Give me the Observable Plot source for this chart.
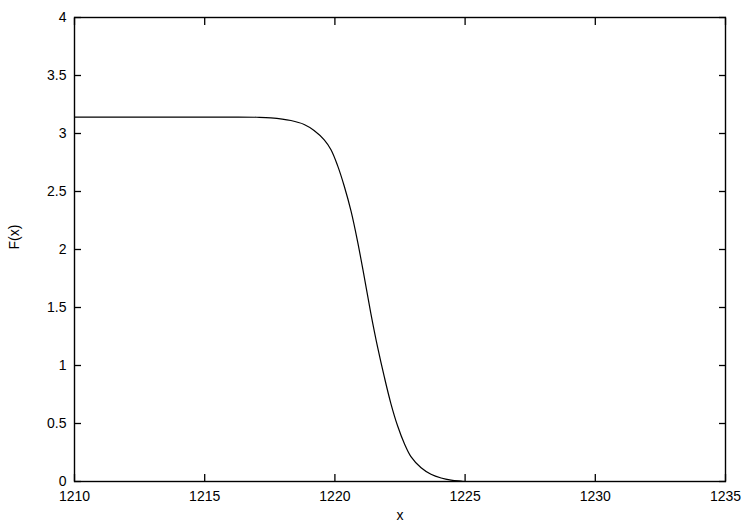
<!DOCTYPE html>
<html>
<head>
<meta charset="utf-8">
<script src="https://cdn.jsdelivr.net/npm/d3@7"></script>
<script src="https://cdn.jsdelivr.net/npm/@observablehq/plot@0.6"></script>
<style>
  html, body { margin: 0; padding: 0; background: #fff; }
  #chart svg { font-family: "Liberation Sans", Arial, sans-serif; }
</style>
</head>
<body>
<div id="chart"></div>
<script>
const xValues = [1210, 1212, 1214, 1216, 1217, 1217.54, 1218.31, 1218.82, 1219.20, 1219.59, 1219.85, 1220.10, 1220.36, 1220.62, 1220.87, 1221.13, 1221.38, 1221.64, 1221.90, 1222.15, 1222.41, 1222.67, 1222.92, 1223.31, 1223.69, 1224.08, 1224.46, 1224.85, 1225];
const yValues = [3.1416, 3.1416, 3.1416, 3.1414, 3.140, 3.135, 3.112, 3.078, 3.026, 2.945, 2.860, 2.725, 2.545, 2.330, 2.070, 1.760, 1.450, 1.158, 0.899, 0.672, 0.478, 0.325, 0.214, 0.118, 0.062, 0.030, 0.012, 0.003, 0];
const xTicks = [1210, 1215, 1220, 1225, 1230, 1235];
const yTicks = [0, 0.5, 1, 1.5, 2, 2.5, 3, 3.5, 4];
const xLabel = "x";
const yLabel = "F(x)";

const data = xValues.map((x, i) => ({x, y: yValues[i]}));

const chart = Plot.plot({
  width: 750,
  height: 525,
  marginLeft: 74,
  marginRight: 25,
  marginTop: 17,
  marginBottom: 44,
  style: {fontSize: "14px", fontFamily: "Liberation Sans, Arial, sans-serif", color: "#000", background: "#fff"},
  x: {domain: [1210, 1235]},
  y: {domain: [0, 4]},
  marks: [
    Plot.axisX({ticks: xTicks, tickSize: 0, tickPadding: 10, tickFormat: d => String(d), label: null, fontSize: 14}),
    Plot.axisX({ticks: xTicks, tickSize: -7, tickFormat: () => "", label: null, strokeWidth: 1.3}),
    Plot.axisX({anchor: "top", ticks: xTicks, tickSize: -7, tickFormat: () => "", label: null, strokeWidth: 1.3}),
    Plot.axisY({ticks: yTicks, tickSize: 0, tickPadding: 8, tickFormat: d => String(d), label: null, fontSize: 14}),
    Plot.axisY({ticks: yTicks, tickSize: -7, tickFormat: () => "", label: null, strokeWidth: 1.3}),
    Plot.axisY({anchor: "right", ticks: yTicks, tickSize: -7, tickFormat: () => "", label: null, strokeWidth: 1.3}),
    Plot.frame({stroke: "#000", strokeWidth: 1.4}),
    Plot.line(data, {x: "x", y: "y", stroke: "#000", strokeWidth: 1.2, curve: "catmull-rom"}),
    Plot.text([xLabel], {frameAnchor: "bottom", dy: 38, text: d => d, fontSize: 14, fill: "#000"}),
    Plot.text([yLabel], {frameAnchor: "left", dx: -60, rotate: -90, text: d => d, fontSize: 14, fill: "#000"})
  ]
});
document.getElementById("chart").appendChild(chart);
</script>
</body>
</html>
